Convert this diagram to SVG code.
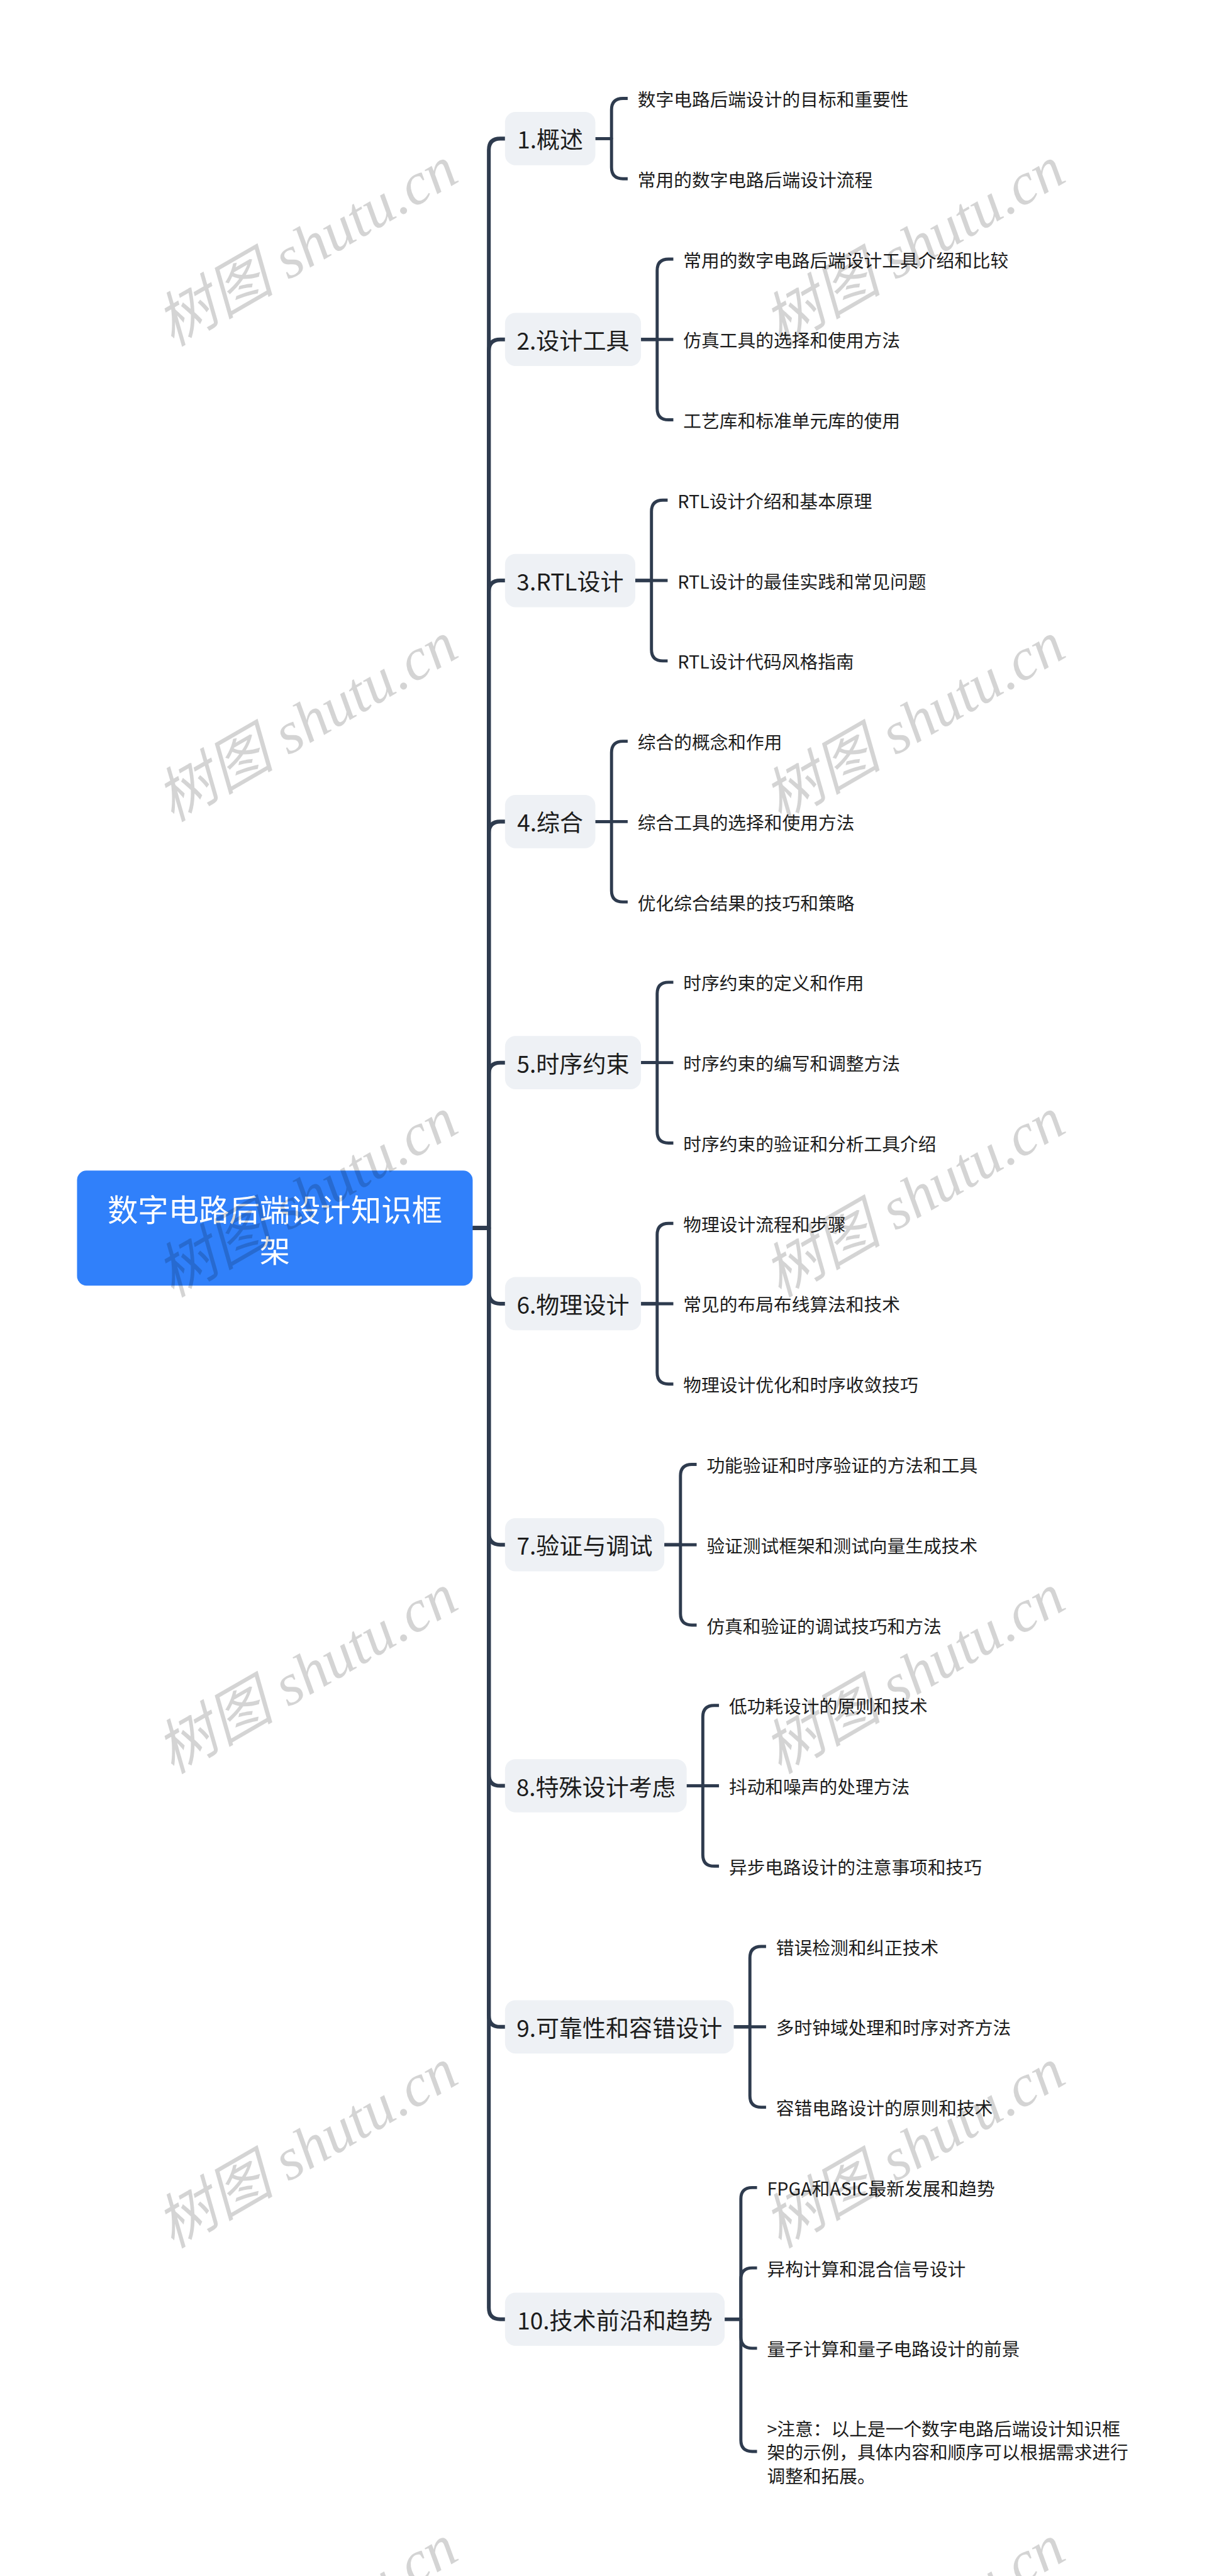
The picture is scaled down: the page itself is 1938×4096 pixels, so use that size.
<svg xmlns="http://www.w3.org/2000/svg" width="1938" height="4096" viewBox="0 0 1938 4096">
<style>
.l1 { fill: #eef1f5; }
.t1 { font-family: "Noto Sans CJK SC", "Noto Sans", sans-serif; font-size: 49px; fill: #1c1c1c; text-anchor: middle; dominant-baseline: central; }
.lf { font-family: "Noto Sans CJK SC", "Noto Sans", sans-serif; font-size: 38px; fill: #1c1c1c; dominant-baseline: central; }
.rt { font-family: "Noto Sans CJK SC", "Noto Sans", sans-serif; font-size: 64px; fill: #ffffff; text-anchor: middle; dominant-baseline: central; }
.c1 { fill: none; stroke: #2e3b4e; stroke-width: 8; stroke-linejoin: round; }
.c2 { fill: none; stroke: #2e3b4e; stroke-width: 6.5; stroke-linejoin: round; }
.wm { font-family: "Liberation Serif", "Noto Sans CJK SC", serif; font-style: italic; font-size: 125px; fill: #000000; fill-opacity: 0.17; text-anchor: middle; dominant-baseline: central; }
</style>
<rect width="1938" height="4096" fill="#ffffff"/>
<g transform="scale(0.756)">
<g id="connectors">
<!-- root to level 1 -->
<path class="c1" d="M994 2583 H1028 V315.5 Q1028 291.5 1052 291.5 H1062"/>
<path class="c1" d="M994 2583 H1028 V738 Q1028 714 1052 714 H1062"/>
<path class="c1" d="M994 2583 H1028 V1245 Q1028 1221 1052 1221 H1062"/>
<path class="c1" d="M994 2583 H1028 V1752 Q1028 1728 1052 1728 H1062"/>
<path class="c1" d="M994 2583 H1028 V2259 Q1028 2235 1052 2235 H1062"/>
<path class="c1" d="M994 2583 H1028 V2718 Q1028 2742 1052 2742 H1062"/>
<path class="c1" d="M994 2583 H1028 V3225 Q1028 3249 1052 3249 H1062"/>
<path class="c1" d="M994 2583 H1028 V3732 Q1028 3756 1052 3756 H1062"/>
<path class="c1" d="M994 2583 H1028 V4239 Q1028 4263 1052 4263 H1062"/>
<path class="c1" d="M994 2583 H1028 V4854 Q1028 4878 1052 4878 H1062"/>
<!-- node 1 leaves -->
<path class="c2" d="M1252 291.5 H1286 V231 Q1286 207 1310 207 H1320"/>
<path class="c2" d="M1252 291.5 H1286 V352 Q1286 376 1310 376 H1320"/>
<!-- node 2 -->
<path class="c2" d="M1348 714 H1382 V569 Q1382 545 1406 545 H1416"/>
<path class="c2" d="M1348 714 H1416"/>
<path class="c2" d="M1348 714 H1382 V859 Q1382 883 1406 883 H1416"/>
<!-- node 3 -->
<path class="c2" d="M1336 1221 H1370 V1076 Q1370 1052 1394 1052 H1404"/>
<path class="c2" d="M1336 1221 H1404"/>
<path class="c2" d="M1336 1221 H1370 V1366 Q1370 1390 1394 1390 H1404"/>
<!-- node 4 -->
<path class="c2" d="M1252 1728 H1286 V1583 Q1286 1559 1310 1559 H1320"/>
<path class="c2" d="M1252 1728 H1320"/>
<path class="c2" d="M1252 1728 H1286 V1873 Q1286 1897 1310 1897 H1320"/>
<!-- node 5 -->
<path class="c2" d="M1348 2235 H1382 V2090 Q1382 2066 1406 2066 H1416"/>
<path class="c2" d="M1348 2235 H1416"/>
<path class="c2" d="M1348 2235 H1382 V2380 Q1382 2404 1406 2404 H1416"/>
<!-- node 6 -->
<path class="c2" d="M1348 2742 H1382 V2597 Q1382 2573 1406 2573 H1416"/>
<path class="c2" d="M1348 2742 H1416"/>
<path class="c2" d="M1348 2742 H1382 V2887 Q1382 2911 1406 2911 H1416"/>
<!-- node 7 -->
<path class="c2" d="M1397 3249 H1431 V3104 Q1431 3080 1455 3080 H1465"/>
<path class="c2" d="M1397 3249 H1465"/>
<path class="c2" d="M1397 3249 H1431 V3394 Q1431 3418 1455 3418 H1465"/>
<!-- node 8 -->
<path class="c2" d="M1444 3756 H1478 V3611 Q1478 3587 1502 3587 H1512"/>
<path class="c2" d="M1444 3756 H1512"/>
<path class="c2" d="M1444 3756 H1478 V3901 Q1478 3925 1502 3925 H1512"/>
<!-- node 9 -->
<path class="c2" d="M1543 4263 H1577 V4118 Q1577 4094 1601 4094 H1611"/>
<path class="c2" d="M1543 4263 H1611"/>
<path class="c2" d="M1543 4263 H1577 V4408 Q1577 4432 1601 4432 H1611"/>
<!-- node 10 -->
<path class="c2" d="M1524 4878 H1558 V4625 Q1558 4601 1582 4601 H1592"/>
<path class="c2" d="M1524 4878 H1558 V4794 Q1558 4770 1582 4770 H1592"/>
<path class="c2" d="M1524 4878 H1558 V4915 Q1558 4939 1582 4939 H1592"/>
<path class="c2" d="M1524 4878 H1558 V5132 Q1558 5156 1582 5156 H1592"/>
</g>

<g id="root">
<rect x="162" y="2462" width="832" height="242" rx="20" fill="#3080fa"/>
<text class="rt" x="578" y="2541">数字电路后端设计知识框</text>
<text class="rt" x="578" y="2627">架</text>
</g>

<g id="n1"><rect class="l1" x="1062" y="235.5" width="190" height="112" rx="22"/><text class="t1" x="1157" y="291.5">1.概述</text></g>
<g id="n2"><rect class="l1" x="1062" y="658" width="286" height="112" rx="22"/><text class="t1" x="1205" y="714">2.设计工具</text></g>
<g id="n3"><rect class="l1" x="1062" y="1165" width="274" height="112" rx="22"/><text class="t1" x="1199" y="1221">3.RTL设计</text></g>
<g id="n4"><rect class="l1" x="1062" y="1672" width="190" height="112" rx="22"/><text class="t1" x="1157" y="1728">4.综合</text></g>
<g id="n5"><rect class="l1" x="1062" y="2179" width="286" height="112" rx="22"/><text class="t1" x="1205" y="2235">5.时序约束</text></g>
<g id="n6"><rect class="l1" x="1062" y="2686" width="286" height="112" rx="22"/><text class="t1" x="1205" y="2742">6.物理设计</text></g>
<g id="n7"><rect class="l1" x="1062" y="3193" width="335" height="112" rx="22"/><text class="t1" x="1229.5" y="3249">7.验证与调试</text></g>
<g id="n8"><rect class="l1" x="1062" y="3700" width="382" height="112" rx="22"/><text class="t1" x="1253" y="3756">8.特殊设计考虑</text></g>
<g id="n9"><rect class="l1" x="1062" y="4207" width="481" height="112" rx="22"/><text class="t1" x="1302.5" y="4263">9.可靠性和容错设计</text></g>
<g id="n10"><rect class="l1" x="1062" y="4822" width="462" height="112" rx="22"/><text class="t1" x="1293" y="4878">10.技术前沿和趋势</text></g>

<g id="leaves1">
<text class="lf" x="1341" y="207">数字电路后端设计的目标和重要性</text>
<text class="lf" x="1341" y="376">常用的数字电路后端设计流程</text>
</g>
<g id="leaves2">
<text class="lf" x="1437" y="545">常用的数字电路后端设计工具介绍和比较</text>
<text class="lf" x="1437" y="714">仿真工具的选择和使用方法</text>
<text class="lf" x="1437" y="883">工艺库和标准单元库的使用</text>
</g>
<g id="leaves3">
<text class="lf" x="1425" y="1052">RTL设计介绍和基本原理</text>
<text class="lf" x="1425" y="1221">RTL设计的最佳实践和常见问题</text>
<text class="lf" x="1425" y="1390">RTL设计代码风格指南</text>
</g>
<g id="leaves4">
<text class="lf" x="1341" y="1559">综合的概念和作用</text>
<text class="lf" x="1341" y="1728">综合工具的选择和使用方法</text>
<text class="lf" x="1341" y="1897">优化综合结果的技巧和策略</text>
</g>
<g id="leaves5">
<text class="lf" x="1437" y="2066">时序约束的定义和作用</text>
<text class="lf" x="1437" y="2235">时序约束的编写和调整方法</text>
<text class="lf" x="1437" y="2404">时序约束的验证和分析工具介绍</text>
</g>
<g id="leaves6">
<text class="lf" x="1437" y="2573">物理设计流程和步骤</text>
<text class="lf" x="1437" y="2742">常见的布局布线算法和技术</text>
<text class="lf" x="1437" y="2911">物理设计优化和时序收敛技巧</text>
</g>
<g id="leaves7">
<text class="lf" x="1486" y="3080">功能验证和时序验证的方法和工具</text>
<text class="lf" x="1486" y="3249">验证测试框架和测试向量生成技术</text>
<text class="lf" x="1486" y="3418">仿真和验证的调试技巧和方法</text>
</g>
<g id="leaves8">
<text class="lf" x="1533" y="3587">低功耗设计的原则和技术</text>
<text class="lf" x="1533" y="3756">抖动和噪声的处理方法</text>
<text class="lf" x="1533" y="3925">异步电路设计的注意事项和技巧</text>
</g>
<g id="leaves9">
<text class="lf" x="1632" y="4094">错误检测和纠正技术</text>
<text class="lf" x="1632" y="4263">多时钟域处理和时序对齐方法</text>
<text class="lf" x="1632" y="4432">容错电路设计的原则和技术</text>
</g>
<g id="leaves10">
<text class="lf" x="1613" y="4601">FPGA和ASIC最新发展和趋势</text>
<text class="lf" x="1613" y="4770">异构计算和混合信号设计</text>
<text class="lf" x="1613" y="4939">量子计算和量子电路设计的前景</text>
<text class="lf" x="1613" y="5106">&gt;注意：以上是一个数字电路后端设计知识框</text>
<text class="lf" x="1613" y="5156">架的示例，具体内容和顺序可以根据需求进行</text>
<text class="lf" x="1613" y="5206">调整和拓展。</text>
</g>

<g id="watermarks">
<text class="wm" x="645" y="518" transform="rotate(-30 645 518)">树图 shutu.cn</text>
<text class="wm" x="1922" y="518" transform="rotate(-30 1922 518)">树图 shutu.cn</text>
<text class="wm" x="645" y="1518" transform="rotate(-30 645 1518)">树图 shutu.cn</text>
<text class="wm" x="1922" y="1518" transform="rotate(-30 1922 1518)">树图 shutu.cn</text>
<text class="wm" x="645" y="2518" transform="rotate(-30 645 2518)">树图 shutu.cn</text>
<text class="wm" x="1922" y="2518" transform="rotate(-30 1922 2518)">树图 shutu.cn</text>
<text class="wm" x="645" y="3520" transform="rotate(-30 645 3520)">树图 shutu.cn</text>
<text class="wm" x="1922" y="3520" transform="rotate(-30 1922 3520)">树图 shutu.cn</text>
<text class="wm" x="645" y="4518" transform="rotate(-30 645 4518)">树图 shutu.cn</text>
<text class="wm" x="1922" y="4518" transform="rotate(-30 1922 4518)">树图 shutu.cn</text>
<text class="wm" x="645" y="5520" transform="rotate(-30 645 5520)">树图 shutu.cn</text>
<text class="wm" x="1922" y="5520" transform="rotate(-30 1922 5520)">树图 shutu.cn</text>
</g>
</g>
</svg>
